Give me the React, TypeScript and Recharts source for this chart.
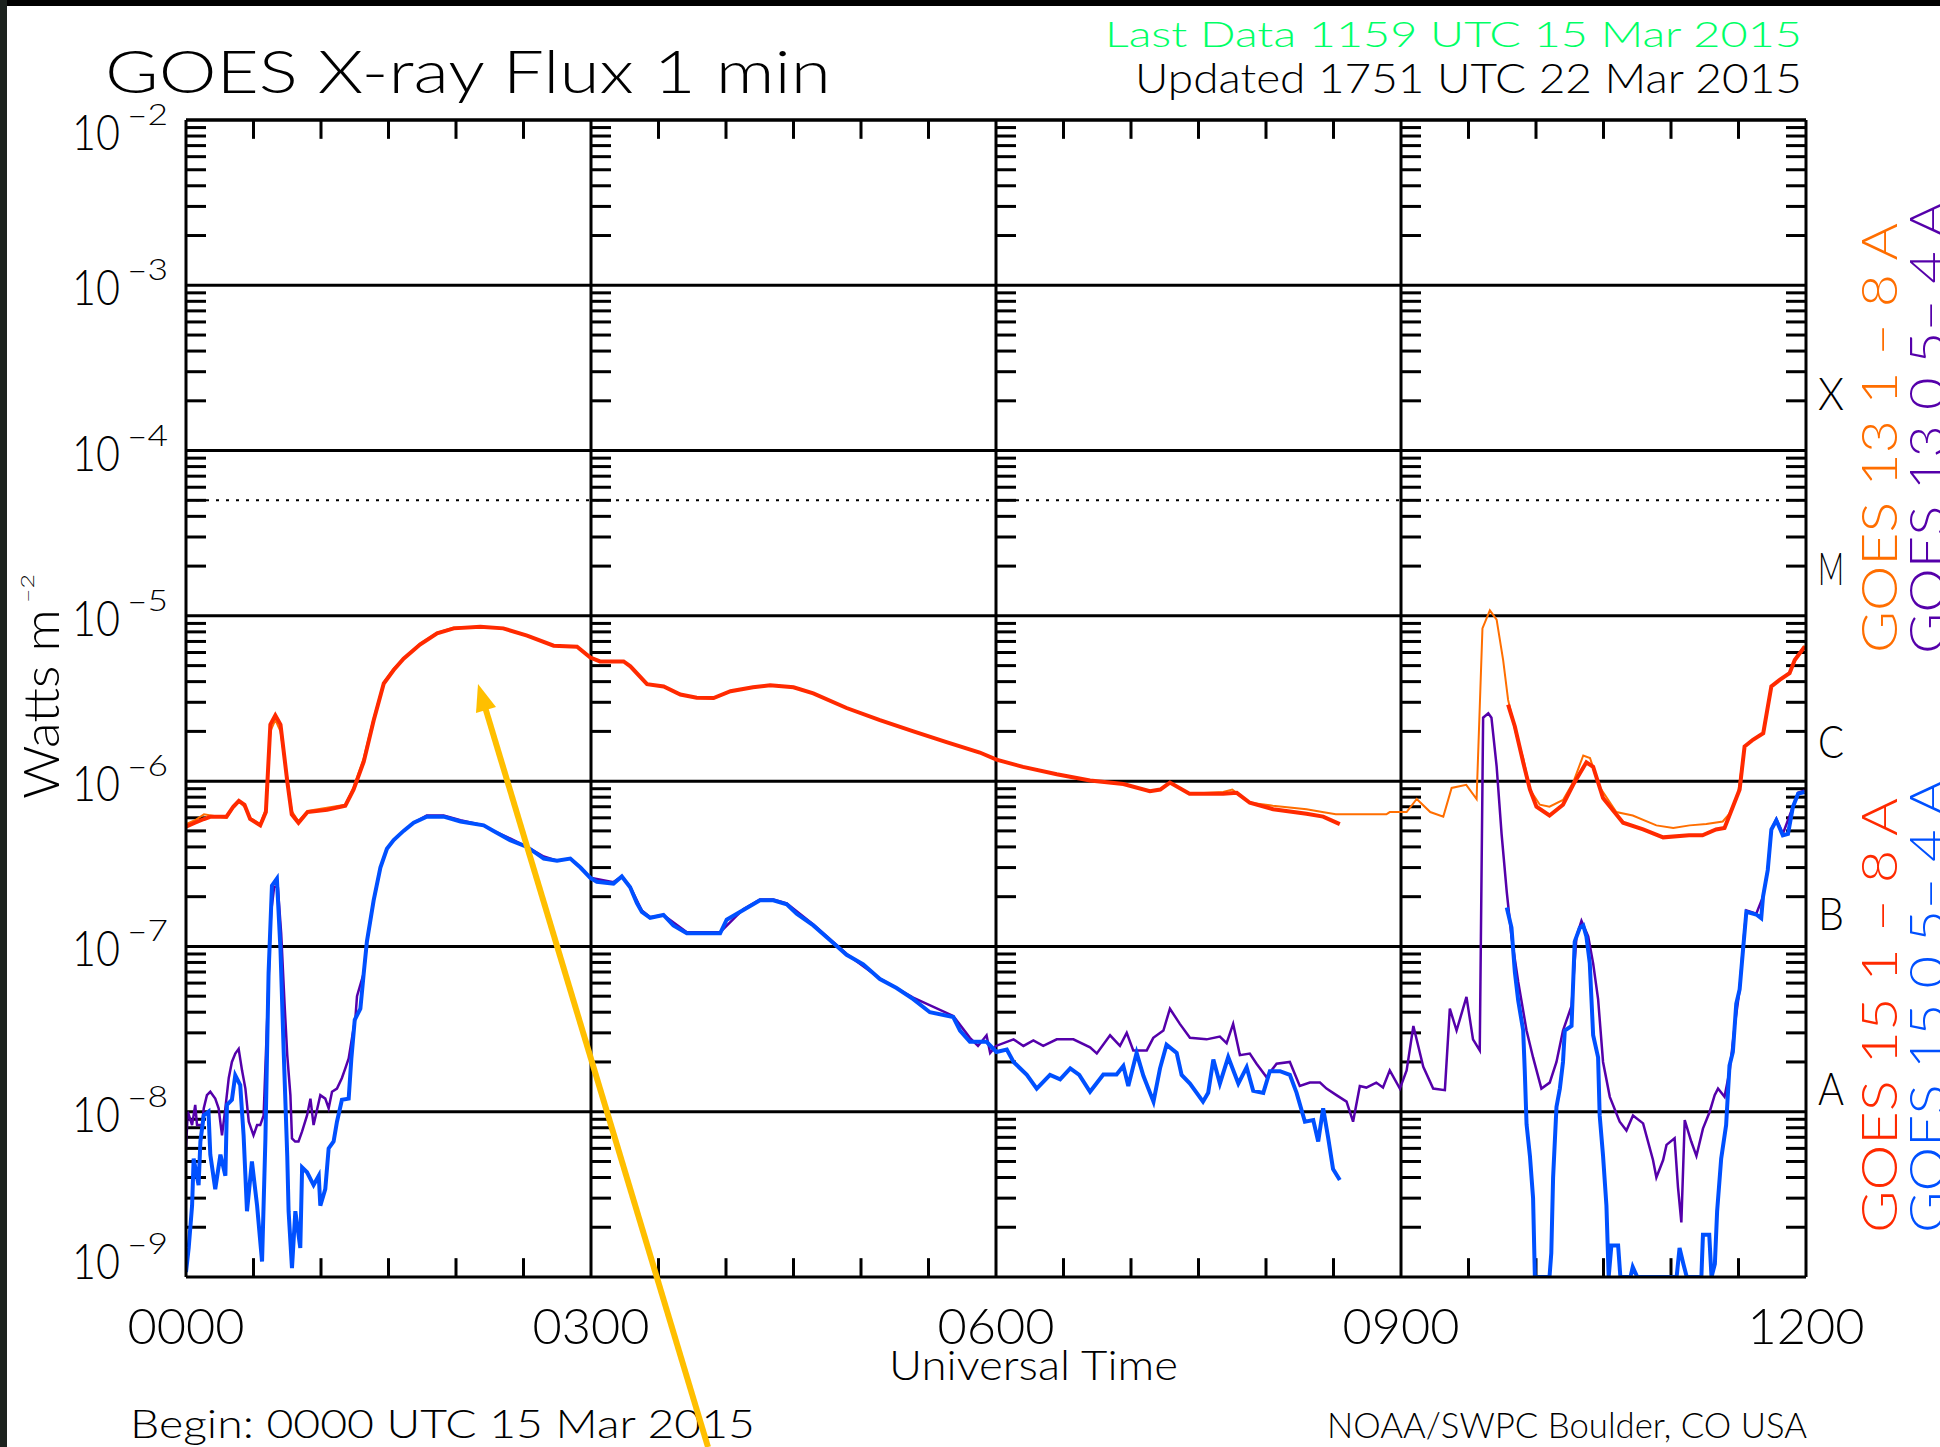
import React from 'react';
import { LineChart, Line, XAxis, YAxis, ReferenceLine } from 'recharts';

type Pair = [number, number | null];

// axis values
const decades = [1e-9, 1e-8, 1e-7, 1e-6, 1e-5, 1e-4, 1e-3, 1e-2];
const minorSteps = [2, 3, 4, 5, 6, 7, 8, 9];
const timeTicks = [0, 180, 360, 540, 720];
const timeLabels = ['0000', '0300', '0600', '0900', '1200'];
const halfHourTicks = [30, 60, 90, 120, 150, 210, 240, 270, 300, 330, 390, 420, 450, 480, 510, 570, 600, 630, 660, 690];
const classTicks = [10 ** -3.652, 10 ** -4.71, 10 ** -5.757, 10 ** -6.8, 10 ** -7.857];
const classLetters = ['X', 'M', 'C', 'B', 'A'];

// minutes after 0000 UTC, W/m^2
const goes15LongRaw: Pair[] = [
  [0, 5.3e-7], [4, 5.6e-7], [8, 5.9e-7], [11, 6.1e-7], [18, 6.1e-7], [21, 7.0e-7], [23.5, 7.6e-7],
  [26, 7.2e-7], [28.5, 5.9e-7], [33, 5.4e-7], [35.5, 6.5e-7], [37.5, 2.2e-6], [39.7, 2.5e-6],
  [42, 2.2e-6], [45, 1.0e-6], [47, 6.3e-7], [50, 5.6e-7], [54, 6.5e-7], [62.7, 6.7e-7], [70.8, 7.1e-7],
  [74.5, 8.9e-7], [79, 1.31e-6], [83.4, 2.33e-6], [87.9, 3.9e-6], [92.3, 4.7e-6], [96.7, 5.5e-6],
  [104, 6.7e-6], [111.6, 7.85e-6], [119, 8.4e-6], [130.8, 8.6e-6], [141, 8.4e-6], [151.6, 7.6e-6],
  [163.4, 6.6e-6], [173.8, 6.5e-6], [179.7, 5.6e-6], [184, 5.3e-6], [194.5, 5.3e-6], [197.5, 4.95e-6],
  [204.9, 3.86e-6], [212.3, 3.74e-6], [219.7, 3.34e-6], [227, 3.2e-6], [234.5, 3.18e-6], [242, 3.5e-6],
  [252, 3.7e-6], [259.6, 3.8e-6], [270, 3.7e-6], [278.8, 3.4e-6], [293.6, 2.77e-6], [308.4, 2.34e-6],
  [323.3, 2.0e-6], [338, 1.72e-6], [352.8, 1.49e-6], [360.2, 1.35e-6], [372, 1.22e-6], [387, 1.1e-6],
  [401.8, 1.01e-6], [416.6, 9.6e-7], [428.4, 8.7e-7], [433, 8.9e-7], [437.3, 9.8e-7], [446, 8.4e-7],
  [461, 8.4e-7], [467, 8.5e-7], [472.8, 7.4e-7], [483.2, 6.76e-7], [498, 6.35e-7], [505.4, 6.1e-7],
  [512.8, 5.5e-7], [550, null],
  [587.6, 2.9e-6], [590.6, 2.14e-6], [594.3, 1.3e-6], [597.3, 8.9e-7], [600.2, 7.0e-7], [606, 6.2e-7],
  [612, 7.2e-7], [616.5, 9.5e-7], [622.4, 1.3e-6], [625.4, 1.22e-6], [629.8, 7.9e-7], [638.7, 5.6e-7],
  [647.6, 5.1e-7], [656.5, 4.57e-7], [668, 4.7e-7], [674, 4.7e-7], [680, 5.1e-7], [683.8, 5.2e-7],
  [687.5, 7.0e-7], [690.5, 8.9e-7], [692.7, 1.62e-6], [696.4, 1.78e-6], [701, 1.95e-6], [704.6, 3.74e-6],
  [708.3, 4.1e-6], [712.7, 4.5e-6], [715, 5.4e-6], [719.4, 6.5e-6],
];

const goes13LongRaw: Pair[] = [
  [0, 5.5e-7], [4, 5.8e-7], [8, 6.3e-7], [11, 6.2e-7], [18, 6.0e-7], [21, 6.9e-7], [23.5, 7.5e-7],
  [26, 7.0e-7], [28.5, 6.0e-7], [33, 5.5e-7], [35.5, 6.8e-7], [37.5, 2.0e-6], [39.7, 2.35e-6],
  [42, 2.0e-6], [45, 1.05e-6], [47, 6.6e-7], [50, 5.7e-7], [54, 6.6e-7], [62.7, 6.9e-7], [70.8, 7.2e-7],
  [74.5, 9.2e-7], [79, 1.38e-6], [83.4, 2.4e-6], [87.9, 3.95e-6], [92.3, 4.8e-6], [96.7, 5.5e-6],
  [104, 6.8e-6], [111.6, 7.9e-6], [119, 8.5e-6], [130.8, 8.6e-6], [141, 8.4e-6], [151.6, 7.6e-6],
  [163.4, 6.6e-6], [173.8, 6.5e-6], [179.7, 5.6e-6], [184, 5.3e-6], [194.5, 5.3e-6], [197.5, 4.95e-6],
  [204.9, 3.86e-6], [212.3, 3.74e-6], [219.7, 3.34e-6], [227, 3.2e-6], [234.5, 3.18e-6], [242, 3.5e-6],
  [252, 3.7e-6], [259.6, 3.8e-6], [270, 3.7e-6], [278.8, 3.4e-6], [293.6, 2.77e-6], [308.4, 2.34e-6],
  [323.3, 2.0e-6], [338, 1.72e-6], [352.8, 1.49e-6], [360.2, 1.35e-6], [372, 1.22e-6], [387, 1.1e-6],
  [401.8, 1.01e-6], [416.6, 9.6e-7], [428.4, 8.7e-7], [433, 8.9e-7], [437.3, 9.8e-7], [446, 8.4e-7],
  [461, 8.6e-7], [465, 8.9e-7], [472.8, 7.4e-7], [483, 7.1e-7], [498, 6.76e-7], [505, 6.5e-7],
  [511, 6.3e-7], [520, 6.3e-7], [533.5, 6.3e-7], [535, 6.5e-7], [542.5, 6.5e-7], [547, 7.8e-7],
  [553, 6.5e-7], [558.8, 6.1e-7], [562.5, 9.1e-7], [569, 9.5e-7], [573.6, 7.8e-7], [576.2, 8.4e-6],
  [579.5, 1.08e-5], [582.5, 9.5e-6], [585.4, 5.4e-6], [587.6, 3.1e-6], [591.3, 1.89e-6], [594.3, 1.38e-6],
  [597.3, 8.9e-7], [601.7, 7.2e-7], [606, 7.0e-7], [612, 7.7e-7], [616.5, 9.8e-7], [621, 1.43e-6],
  [624, 1.38e-6], [628.3, 9.2e-7], [635.7, 6.5e-7], [643, 6.2e-7], [653.5, 5.4e-7], [661, 5.2e-7],
  [668.3, 5.4e-7], [675.7, 5.5e-7], [683, 5.7e-7], [686, 6.35e-7], [689.8, 8.4e-7], [692.7, 1.62e-6],
  [696.4, 1.78e-6], [701, 1.95e-6], [704.6, 3.74e-6], [708.3, 4.1e-6], [712.7, 4.5e-6], [715, 5.4e-6],
  [719.4, 6.6e-6],
];

const goes15ShortRaw: Pair[] = [
  [0, 1.07e-9], [1.2, 1.5e-9], [2.7, 2.7e-9], [3.4, 5.2e-9], [5.6, 3.6e-9], [6.4, 6.6e-9], [7.9, 9.5e-9],
  [10, 1.0e-8], [10.8, 5.5e-9], [13, 3.4e-9], [15.3, 5.5e-9], [17.5, 4.1e-9], [18.2, 1.1e-8],
  [20.4, 1.18e-8], [21.9, 1.66e-8], [24.1, 1.45e-8], [25.6, 7.2e-9], [27.1, 2.5e-9], [29.3, 5.0e-9],
  [31.6, 2.7e-9], [33.8, 1.24e-9], [35.3, 6.9e-9], [36.7, 6.9e-8], [38.2, 2.33e-7], [40.4, 2.57e-7],
  [42, 9.5e-8], [43.4, 2.35e-8], [45, 5.4e-9], [45.6, 2.5e-9], [47.1, 1.13e-9], [48.6, 2.5e-9],
  [50.8, 1.5e-9], [51.6, 4.6e-9], [53.8, 4.3e-9], [56.7, 3.6e-9], [59, 4.1e-9], [59.7, 2.7e-9],
  [61.9, 3.4e-9], [63.4, 6.0e-9], [65.6, 6.6e-9], [67.1, 8.7e-9], [69.3, 1.18e-8], [72.3, 1.2e-8],
  [73.5, 2.1e-8], [75, 3.6e-8], [77.5, 4.2e-8], [79, 6.9e-8], [80.4, 1.07e-7], [83.4, 1.9e-7],
  [86.4, 3.0e-7], [89.3, 3.9e-7], [92.3, 4.4e-7], [96.7, 5.0e-7], [101.2, 5.6e-7], [107, 6.1e-7],
  [114.5, 6.1e-7], [122, 5.7e-7], [132.3, 5.4e-7], [136.7, 5.0e-7], [144, 4.4e-7], [151.6, 4.0e-7],
  [159, 3.4e-7], [164.9, 3.3e-7], [170.8, 3.4e-7], [175.3, 3.0e-7], [179.7, 2.6e-7], [182.6, 2.46e-7],
  [190, 2.4e-7], [193.7, 2.65e-7], [197.4, 2.28e-7], [200.4, 1.83e-7], [202.6, 1.62e-7], [206.3, 1.49e-7],
  [212.2, 1.55e-7], [216.6, 1.34e-7], [222.6, 1.2e-7], [237.4, 1.2e-7], [240.3, 1.45e-7], [247.7, 1.66e-7],
  [255.1, 1.9e-7], [261, 1.9e-7], [267, 1.8e-7], [271.4, 1.58e-7], [278.8, 1.34e-7], [287.7, 1.05e-7],
  [293.6, 8.9e-8], [301, 7.8e-8], [308.4, 6.35e-8], [315.8, 5.6e-8], [323.2, 4.8e-8], [330.6, 4.0e-8],
  [341, 3.74e-8], [344, 3.1e-8], [348.4, 2.65e-8], [355.8, 2.65e-8], [360.2, 2.3e-8], [364.8, 2.38e-8],
  [367.8, 2.0e-8], [373.7, 1.67e-8], [378.1, 1.38e-8], [384, 1.67e-8], [388.5, 1.57e-8], [393, 1.83e-8],
  [397, 1.67e-8], [401.8, 1.32e-8], [407.7, 1.68e-8], [413.6, 1.68e-8], [416.6, 1.89e-8], [418.8, 1.43e-8],
  [422.5, 2.27e-8], [425.5, 1.65e-8], [430, 1.15e-8], [432.9, 1.83e-8], [435.8, 2.54e-8], [440.3, 2.27e-8],
  [442.5, 1.67e-8], [446.2, 1.48e-8], [452, 1.15e-8], [454.3, 1.3e-8], [456.6, 2.07e-8], [459.5, 1.48e-8],
  [463.2, 2.14e-8], [467.7, 1.48e-8], [471.4, 1.86e-8], [474.3, 1.34e-8], [478.8, 1.3e-8], [481.7, 1.76e-8],
  [486.2, 1.76e-8], [490.6, 1.67e-8], [493.6, 1.3e-8], [497.3, 8.7e-9], [501, 8.9e-9], [503.2, 6.6e-9],
  [505.4, 1.05e-8], [507.6, 7.0e-9], [509.8, 4.5e-9], [512.8, 3.86e-9], [550, null],
  [587, 1.72e-7], [589.1, 1.3e-7], [590.6, 7.0e-8], [592.1, 4.7e-8], [594.3, 3.1e-8], [595, 1.78e-8],
  [595.8, 8.4e-9], [597.3, 5.4e-9], [598.7, 3.0e-9], [599.5, 1.0e-9], [606, 1.0e-9], [606.8, 1.4e-9],
  [607.6, 4.0e-9], [609.1, 1.07e-8], [610.6, 1.38e-8], [612, 2.0e-8], [612.8, 3.1e-8], [615.8, 3.3e-8],
  [617.2, 1.07e-7], [619.5, 1.3e-7], [621, 1.34e-7], [622.4, 1.15e-7], [623.9, 7.9e-8], [625.4, 2.9e-8],
  [627.6, 2.13e-8], [628.3, 9.5e-9], [629.8, 5.4e-9], [631.3, 2.7e-9], [632.3, 1.0e-9], [633.5, 1.55e-9],
  [636.5, 1.55e-9], [637.5, 1.0e-9], [642, 1.0e-9], [643, 1.15e-9], [645, 1.0e-9], [662.5, 1.0e-9],
  [663.8, 1.5e-9], [665.5, 1.2e-9], [667, 1.0e-9], [673.5, 1.0e-9], [674.2, 1.8e-9], [677, 1.8e-9],
  [678, 1.0e-9], [679.5, 1.2e-9], [680.5, 2.5e-9], [682.3, 5.2e-9], [684.5, 8.3e-9], [686, 1.9e-8],
  [687.5, 2.3e-8], [689, 4.5e-8], [690.5, 5.5e-8], [692, 9.5e-8], [693.5, 1.62e-7], [697.9, 1.56e-7],
  [700.1, 1.48e-7], [700.9, 2.0e-7], [703, 2.9e-7], [704.6, 5.1e-7], [706.8, 5.8e-7], [709.7, 4.7e-7],
  [712, 4.8e-7], [714.2, 7.0e-7], [716.5, 8.4e-7], [719.4, 8.6e-7],
];

const goes13ShortRaw: Pair[] = [
  [0, 6.0e-9], [0.8, 1.0e-8], [2.7, 8.3e-9], [4.1, 1.1e-8], [4.9, 8.3e-9], [7.1, 8.3e-9], [7.9, 1.05e-8],
  [9.3, 1.26e-8], [10.8, 1.32e-8], [13, 1.2e-8], [14.5, 1.05e-8], [16, 7.2e-9], [17.5, 1.05e-8],
  [19, 1.6e-8], [20.4, 2.0e-8], [21.9, 2.25e-8], [23.4, 2.4e-8], [24.9, 1.78e-8], [26.4, 1.38e-8],
  [27.9, 8.7e-9], [30, 7.2e-9], [31.6, 8.3e-9], [33, 8.3e-9], [34.5, 9.5e-9], [36.2, 4.0e-8],
  [37.8, 1.6e-7], [39.2, 2.3e-7], [40.8, 2.3e-7], [42.3, 1.2e-7], [43.8, 4.5e-8], [45, 2.2e-8],
  [46.4, 1.26e-8], [47.1, 6.9e-9], [48.5, 6.6e-9], [50, 6.6e-9], [51.6, 7.6e-9], [53.8, 9.5e-9],
  [55.3, 1.2e-8], [56.7, 8.3e-9], [59.7, 1.26e-8], [61.9, 1.2e-8], [63.4, 1.05e-8], [64.9, 1.32e-8],
  [67.1, 1.38e-8], [69.3, 1.6e-8], [70.8, 1.83e-8], [72.3, 2.1e-8], [73.8, 2.8e-8], [75.3, 3.7e-8],
  [76, 5.0e-8], [79, 6.9e-8], [80.4, 1.07e-7], [83.4, 1.9e-7], [86.4, 3.0e-7], [89.3, 3.9e-7],
  [92.3, 4.4e-7], [96.7, 5.0e-7], [101.2, 5.6e-7], [107, 6.2e-7], [114.5, 6.2e-7], [122, 5.8e-7],
  [132.3, 5.4e-7], [136.7, 5.0e-7], [144, 4.5e-7], [151.6, 4.0e-7], [159, 3.5e-7], [164.9, 3.3e-7],
  [170.8, 3.4e-7], [175.3, 3.0e-7], [179.7, 2.6e-7], [190, 2.45e-7], [193.7, 2.65e-7], [197.4, 2.3e-7],
  [202.6, 1.65e-7], [206.3, 1.5e-7], [212.2, 1.55e-7], [222.6, 1.22e-7], [237.4, 1.22e-7], [247.7, 1.68e-7],
  [255.1, 1.92e-7], [261, 1.92e-7], [267, 1.82e-7], [278.8, 1.36e-7], [293.6, 9.0e-8], [308.4, 6.4e-8],
  [323.2, 4.9e-8], [341, 3.8e-8], [348.4, 2.8e-8], [352, 2.5e-8], [355.8, 2.9e-8], [357.4, 2.27e-8],
  [360, 2.5e-8], [367.8, 2.74e-8], [372.2, 2.5e-8], [376.6, 2.7e-8], [381, 2.5e-8], [387, 2.74e-8],
  [394.4, 2.74e-8], [401.8, 2.45e-8], [404.8, 2.25e-8], [410.7, 2.9e-8], [415.1, 2.5e-8], [418.1, 3.0e-8],
  [421, 2.35e-8], [427, 2.35e-8], [429.9, 2.8e-8], [434.4, 3.1e-8], [437.3, 4.2e-8], [441.7, 3.4e-8],
  [446.2, 2.8e-8], [453.6, 2.74e-8], [459.5, 2.85e-8], [462.5, 2.6e-8], [465.4, 3.4e-8], [468.4, 2.2e-8],
  [472.8, 2.25e-8], [475.8, 1.95e-8], [480.2, 1.62e-8], [484.7, 1.95e-8], [490.6, 2.0e-8], [495, 1.43e-8],
  [499.5, 1.5e-8], [504, 1.5e-8], [506.9, 1.38e-8], [511.3, 1.26e-8], [515.8, 1.15e-8], [518.7, 8.7e-9],
  [521.7, 1.43e-8], [524.6, 1.4e-8], [529, 1.5e-8], [532, 1.4e-8], [535, 1.78e-8], [539.5, 1.38e-8],
  [542.5, 1.78e-8], [545.5, 3.3e-8], [549.9, 1.87e-8], [554.3, 1.38e-8], [559.5, 1.35e-8], [561.7, 4.2e-8],
  [564.7, 3.1e-8], [569.1, 4.95e-8], [572, 2.74e-8], [575, 2.35e-8], [576.5, 2.42e-6], [578.8, 2.57e-6],
  [580.2, 2.42e-6], [582.5, 1.23e-6], [584.7, 4.8e-7], [587, 2.14e-7], [589.1, 1.15e-7], [592.1, 6.1e-8],
  [595.8, 3.1e-8], [598.7, 2.13e-8], [602.4, 1.38e-8], [606.1, 1.5e-8], [609.1, 2.0e-8], [612, 3.1e-8],
  [615.8, 4.36e-8], [618, 1.15e-7], [620.2, 1.43e-7], [623.2, 1.15e-7], [625.4, 7.9e-8], [627.6, 4.8e-8],
  [629.8, 2.0e-8], [632.8, 1.23e-8], [637.2, 8.7e-9], [640.2, 7.7e-9], [643.1, 9.5e-9], [647.6, 8.5e-9],
  [652, 5.1e-9], [653.5, 4.0e-9], [656.5, 5.1e-9], [658, 6.3e-9], [661.6, 6.9e-9], [663.1, 3.5e-9],
  [664.6, 2.14e-9], [666.1, 8.9e-9], [669, 6.6e-9], [671.3, 5.4e-9], [674.2, 7.9e-9], [677.2, 1.0e-8],
  [679.4, 1.26e-8], [680.9, 1.38e-8], [683.8, 1.23e-8], [686.1, 1.78e-8], [688.3, 3.3e-8], [690.5, 5.5e-8],
  [692, 1.0e-7], [693.5, 1.65e-7], [697.9, 1.58e-7], [700.9, 2.0e-7], [703, 2.9e-7], [704.6, 5.1e-7],
  [706.8, 5.9e-7], [709.7, 4.8e-7], [714.2, 7.0e-7], [716.5, 8.5e-7], [719.4, 8.8e-7],
];

const toRows = (raw: Pair[]) => raw.map(([t, v]) => ({ t, v }));
const goes15Long = toRows(goes15LongRaw);
const goes13Long = toRows(goes13LongRaw);
const goes15Short = toRows(goes15ShortRaw);
const goes13Short = toRows(goes13ShortRaw);

const FONT = "Lato, 'DejaVu Sans', sans-serif";
const TICK_MIN = 8.9; // ~20px in minutes
const TICK_FACTOR = 1.3; // ~19px on the log axis
const minorValues = decades.slice(0, -1).flatMap((d) => minorSteps.map((m) => m * d));
const frame = { stroke: '#000', strokeWidth: 3 };

const txt = { fontFamily: FONT, fontWeight: 300, fill: '#000' } as const;

function LogTick(props: any) {
  const { y, payload } = props;
  const e = Math.round(Math.log10(payload.value));
  const shift = e === -2 ? 10 : e === -9 ? -18 : 0;
  const base = y + 20 + shift;
  return (
    <g>
      <text x={72} y={base} fontSize={50} textLength={48} lengthAdjust="spacingAndGlyphs" {...txt}>10</text>
      <text x={127} y={base - 25} fontSize={30} textLength={41} lengthAdjust="spacingAndGlyphs" {...txt}>
        {'\u2013' + String(-e)}
      </text>
    </g>
  );
}

function TimeTick(props: any) {
  const { x, payload } = props;
  const i = timeTicks.indexOf(payload.value);
  return (
    <text x={x} y={1344} textAnchor="middle" fontSize={50} textLength={117} lengthAdjust="spacingAndGlyphs" {...txt}>
      {timeLabels[i]}
    </text>
  );
}

function ClassTick(props: any) {
  const { y, index } = props;
  return (
    <text x={1818} y={y + 17} fontSize={46} textLength={26} lengthAdjust="spacingAndGlyphs" {...txt}>
      {classLetters[index]}
    </text>
  );
}

function Rot({ x, y, len, size, color, children }: any) {
  return (
    <text
      x={x}
      y={y}
      transform={`rotate(-90 ${x} ${y})`}
      fontSize={size}
      textLength={len}
      lengthAdjust="spacingAndGlyphs"
      fontFamily={FONT}
      fontWeight={300}
      fill={color}
    >
      {children}
    </text>
  );
}

export default function App() {
  return (
    <div style={{ position: 'absolute', left: 0, top: 0, width: 1940, height: 1447, background: '#fff', overflow: 'hidden' }}>
      <LineChart width={1940} height={1447} margin={{ top: 120, right: 74, bottom: 90, left: 66 }}>
        <XAxis
          type="number"
          dataKey="t"
          domain={[0, 720]}
          ticks={timeTicks}
          interval={0}
          allowDataOverflow
          height={80}
          tickLine={false}
          axisLine={frame}
          tick={(p: any) => <TimeTick {...p} />}
        />
        <YAxis
          type="number"
          scale="log"
          domain={[1e-9, 1e-2]}
          ticks={decades}
          interval={0}
          allowDataOverflow
          width={120}
          tickLine={false}
          axisLine={frame}
          tick={(p: any) => <LogTick {...p} />}
        />
        <YAxis
          yAxisId="cls"
          orientation="right"
          type="number"
          scale="log"
          domain={[1e-9, 1e-2]}
          ticks={classTicks}
          interval={0}
          allowDataOverflow
          width={60}
          tickLine={false}
          axisLine={frame}
          tick={(p: any) => <ClassTick {...p} />}
        />

        {decades.slice(1).map((d) => (
          <ReferenceLine key={'h' + d} y={d} stroke="#000" strokeWidth={3} />
        ))}
        {timeTicks.slice(1, -1).map((t) => (
          <ReferenceLine key={'v' + t} x={t} stroke="#000" strokeWidth={3} />
        ))}
        <ReferenceLine y={5e-5} stroke="#000" strokeWidth={2} strokeDasharray="3 7" />

        {minorValues.map((v) => (
          <ReferenceLine key={'l' + v} segment={[{ x: 0, y: v }, { x: TICK_MIN, y: v }]} stroke="#000" strokeWidth={3} />
        ))}
        {timeTicks.slice(1, -1).flatMap((t) =>
          minorValues.map((v) => (
            <ReferenceLine key={'i' + t + '-' + v} segment={[{ x: t, y: v }, { x: t + TICK_MIN, y: v }]} stroke="#000" strokeWidth={3} />
          ))
        )}
        {minorValues.map((v) => (
          <ReferenceLine key={'r' + v} segment={[{ x: 720 - TICK_MIN, y: v }, { x: 720, y: v }]} stroke="#000" strokeWidth={3} />
        ))}
        {halfHourTicks.map((t) => (
          <ReferenceLine key={'t' + t} segment={[{ x: t, y: 1e-2 }, { x: t, y: 1e-2 / TICK_FACTOR }]} stroke="#000" strokeWidth={3} />
        ))}
        {halfHourTicks.map((t) => (
          <ReferenceLine key={'b' + t} segment={[{ x: t, y: 1e-9 }, { x: t, y: 1e-9 * TICK_FACTOR }]} stroke="#000" strokeWidth={3} />
        ))}

        <Line data={goes13Long} dataKey="v" type="linear" stroke="#ff6e00" strokeWidth={2} dot={false} isAnimationActive={false} />
        <Line data={goes13Short} dataKey="v" type="linear" stroke="#5500aa" strokeWidth={2.5} dot={false} isAnimationActive={false} />
        <Line data={goes15Long} dataKey="v" type="linear" stroke="#ff2a00" strokeWidth={4} dot={false} isAnimationActive={false} />
        <Line data={goes15Short} dataKey="v" type="linear" stroke="#0050ff" strokeWidth={4} dot={false} isAnimationActive={false} />

        <ReferenceLine y={1e-2} stroke="#000" strokeWidth={3} />
      </LineChart>

      <svg width={1940} height={1447} style={{ position: 'absolute', left: 0, top: 0, pointerEvents: 'none' }}>
        <text x={105} y={93} fontSize={60} textLength={726} lengthAdjust="spacingAndGlyphs" {...txt}>GOES X-ray Flux 1 min</text>
        <text x={1105} y={47} fontSize={36} textLength={697} lengthAdjust="spacingAndGlyphs" {...txt} fill="#00ff66">
          Last Data 1159 UTC 15 Mar 2015
        </text>
        <text x={1135} y={93} fontSize={42} textLength={667} lengthAdjust="spacingAndGlyphs" {...txt}>Updated 1751 UTC 22 Mar 2015</text>
        <text x={889} y={1380} fontSize={42} textLength={289} lengthAdjust="spacingAndGlyphs" {...txt}>Universal Time</text>
        <text x={130} y={1438} fontSize={40} textLength={625} lengthAdjust="spacingAndGlyphs" {...txt}>Begin: 0000 UTC 15 Mar 2015</text>
        <text x={1327} y={1438} fontSize={36} textLength={480} lengthAdjust="spacingAndGlyphs" {...txt}>NOAA/SWPC Boulder, CO USA</text>

        <Rot x={59} y={799} len={190} size={50} color="#000">Watts m</Rot>
        <Rot x={34} y={603} len={29} size={18} color="#000">{'\u2013' + '2'}</Rot>

        <Rot x={1897} y={653} len={430} size={50} color="#ff6e00">{'GOES 13 1 \u2013 8 A'}</Rot>
        <Rot x={1945} y={654} len={453} size={50} color="#5500aa">{'GOES 13 0.5\u2013 4 A'}</Rot>
        <Rot x={1897} y={1233} len={435} size={50} color="#ff2a00">{'GOES 15 1 \u2013 8 A'}</Rot>
        <Rot x={1945} y={1233} len={454} size={50} color="#0050ff">{'GOES 15 0.5\u2013 4 A'}</Rot>

        <line x1={708} y1={1447} x2={485} y2={707} stroke="#ffbf00" strokeWidth={6} />
        <polygon points="478,684 496,707 476,713" fill="#ffbf00" />
      </svg>

      <div style={{ position: 'absolute', left: 0, top: 0, width: 1940, height: 6, background: '#000' }} />
      <div style={{ position: 'absolute', left: 0, top: 0, width: 7, height: 1447, background: '#1c221e' }} />
    </div>
  );
}
